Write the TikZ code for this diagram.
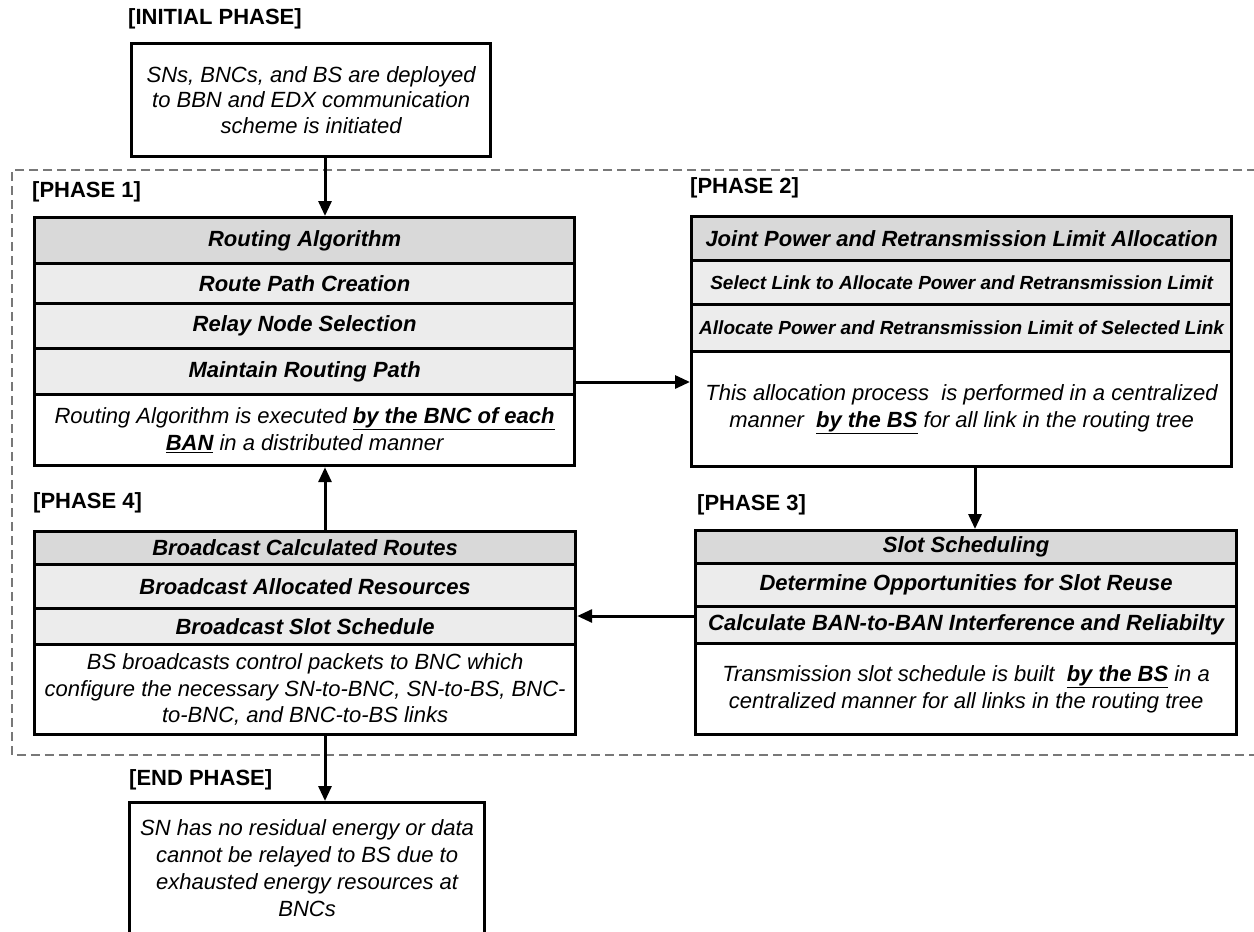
\documentclass[tikz,border=0pt]{standalone}
\usepackage{fontspec}
\setmainfont{Liberation Sans}
\usetikzlibrary{arrows.meta}
\definecolor{hdrgray}{RGB}{217,217,217}
\definecolor{rowgray}{RGB}{236,236,236}
\definecolor{dashgray}{RGB}{120,120,120}
\begin{document}
\begin{tikzpicture}[x=1pt,y=-1pt,
  cell/.style={draw=black, line width=3.2pt, anchor=north west, inner sep=0pt, align=center},
  hdr/.style={cell, fill=hdrgray, font=\fontsize{22}{26.5}\selectfont\bfseries\itshape},
  rowc/.style={cell, fill=rowgray, font=\fontsize{22}{26.5}\selectfont\bfseries\itshape},
  rowsm/.style={cell, fill=rowgray, font=\fontsize{19}{23}\selectfont\bfseries\itshape},
  body/.style={cell, fill=white, font=\fontsize{22}{26.7}\selectfont\itshape},
  lbl/.style={anchor=west, inner sep=0pt, font=\fontsize{22}{26.5}\selectfont\bfseries},
  arr/.style={line width=3pt, -{Triangle[length=15pt,width=13pt]}},
  frame/.style={draw=dashgray, line width=1.6pt, dash pattern=on 9pt off 5pt}
]
\useasboundingbox (0,0) rectangle (1254,932);
\clip (0,0) rectangle (1254,932);
\fill[white] (0,0) rectangle (1254,932);

% dashed region
\draw[frame] (1270,170) -- (12,170) -- (12,755) -- (1270,755);

% initial phase
\node[lbl] (linit) at (128,19) {[INITIAL PHASE]};
\node[body, minimum width=359pt, minimum height=113pt, font=\fontsize{22}{25.5}\selectfont\itshape] (init) at (130,42)
  {SNs, BNCs, and BS are deployed\\to BBN and EDX communication\\scheme is initiated};

% phase 1
\node[lbl] (lp1) at (32,192) {[PHASE 1]};
\node[hdr,  minimum width=540pt, minimum height=46pt] (p1h) at (33,216) {Routing Algorithm};
\node[rowc, minimum width=540pt, minimum height=40pt] (p1a) at (33,262) {Route Path Creation};
\node[rowc, minimum width=540pt, minimum height=45pt] (p1b) at (33,302) {Relay Node Selection};
\node[rowc, minimum width=540pt, minimum height=46pt] (p1c) at (33,347) {Maintain Routing Path};
\node[body, minimum width=540pt, minimum height=71pt] (p1t) at (33,393)
  {Routing Algorithm is executed \underline{\bfseries by the BNC of each}\\\underline{\bfseries BAN} in a distributed manner};

% phase 2
\node[lbl] (lp2) at (690,188) {[PHASE 2]};
\node[hdr,   minimum width=540pt, minimum height=44pt] (p2h) at (690,215) {Joint Power and Retransmission Limit Allocation};
\node[rowsm, minimum width=540pt, minimum height=44pt] (p2a) at (690,259) {Select Link to Allocate Power and Retransmission Limit};
\node[rowsm, minimum width=540pt, minimum height=47pt] (p2b) at (690,303) {Allocate Power and Retransmission Limit of Selected Link};
\node[body,  minimum width=540pt, minimum height=115pt] (p2t) at (690,350)
  {This allocation process\ \ is performed in a centralized\\manner\ \ \underline{\bfseries by the BS} for all link in the routing tree};

% phase 3
\node[lbl] (lp3) at (697,505) {[PHASE 3]};
\node[hdr,  minimum width=541pt, minimum height=33pt] (p3h) at (694,529) {Slot Scheduling};
\node[rowc, minimum width=541pt, minimum height=43pt] (p3a) at (694,562) {Determine Opportunities for Slot Reuse};
\node[rowc, minimum width=541pt, minimum height=37pt] (p3b) at (694,605) {Calculate BAN-to-BAN Interference and Reliabilty};
\node[body, minimum width=541pt, minimum height=91pt] (p3t) at (694,642)
  {Transmission slot schedule is built\ \ \underline{\bfseries by the BS} in a\\centralized manner for all links in the routing tree};

% phase 4
\node[lbl] (lp4) at (33,503) {[PHASE 4]};
\node[hdr,  minimum width=541pt, minimum height=33pt] (p4h) at (33,530) {Broadcast Calculated Routes};
\node[rowc, minimum width=541pt, minimum height=44pt] (p4a) at (33,563) {Broadcast Allocated Resources};
\node[rowc, minimum width=541pt, minimum height=36pt] (p4b) at (33,607) {Broadcast Slot Schedule};
\node[body, minimum width=541pt, minimum height=90pt] (p4t) at (33,643)
  {BS broadcasts control packets to BNC which\\configure the necessary SN-to-BNC, SN-to-BS, BNC-\\to-BNC, and BNC-to-BS links};

% end phase
\node[lbl] (lend) at (129,780) {[END PHASE]};
\node[body, minimum width=355pt, minimum height=131pt] (endb) at (128,801)
  {SN has no residual energy or data\\cannot be relayed to BS due to\\exhausted energy resources at\\BNCs};

% connectors
\draw[arr] (init.south -| 325,0) -- (p1h.north -| 325,0);
\draw[arr] (p1c.east |- 0,382) -- (p2t.west |- 0,382);
\draw[arr] (p2t.south -| 975,0) -- (p3h.north -| 975,0);
\draw[arr] (p3b.west |- 0,616) -- (p4b.east |- 0,616);
\draw[arr] (p4h.north -| 325,0) -- (p1t.south -| 325,0);
\draw[arr] (p4t.south -| 325,0) -- (endb.north -| 325,0);
\end{tikzpicture}
\end{document}
